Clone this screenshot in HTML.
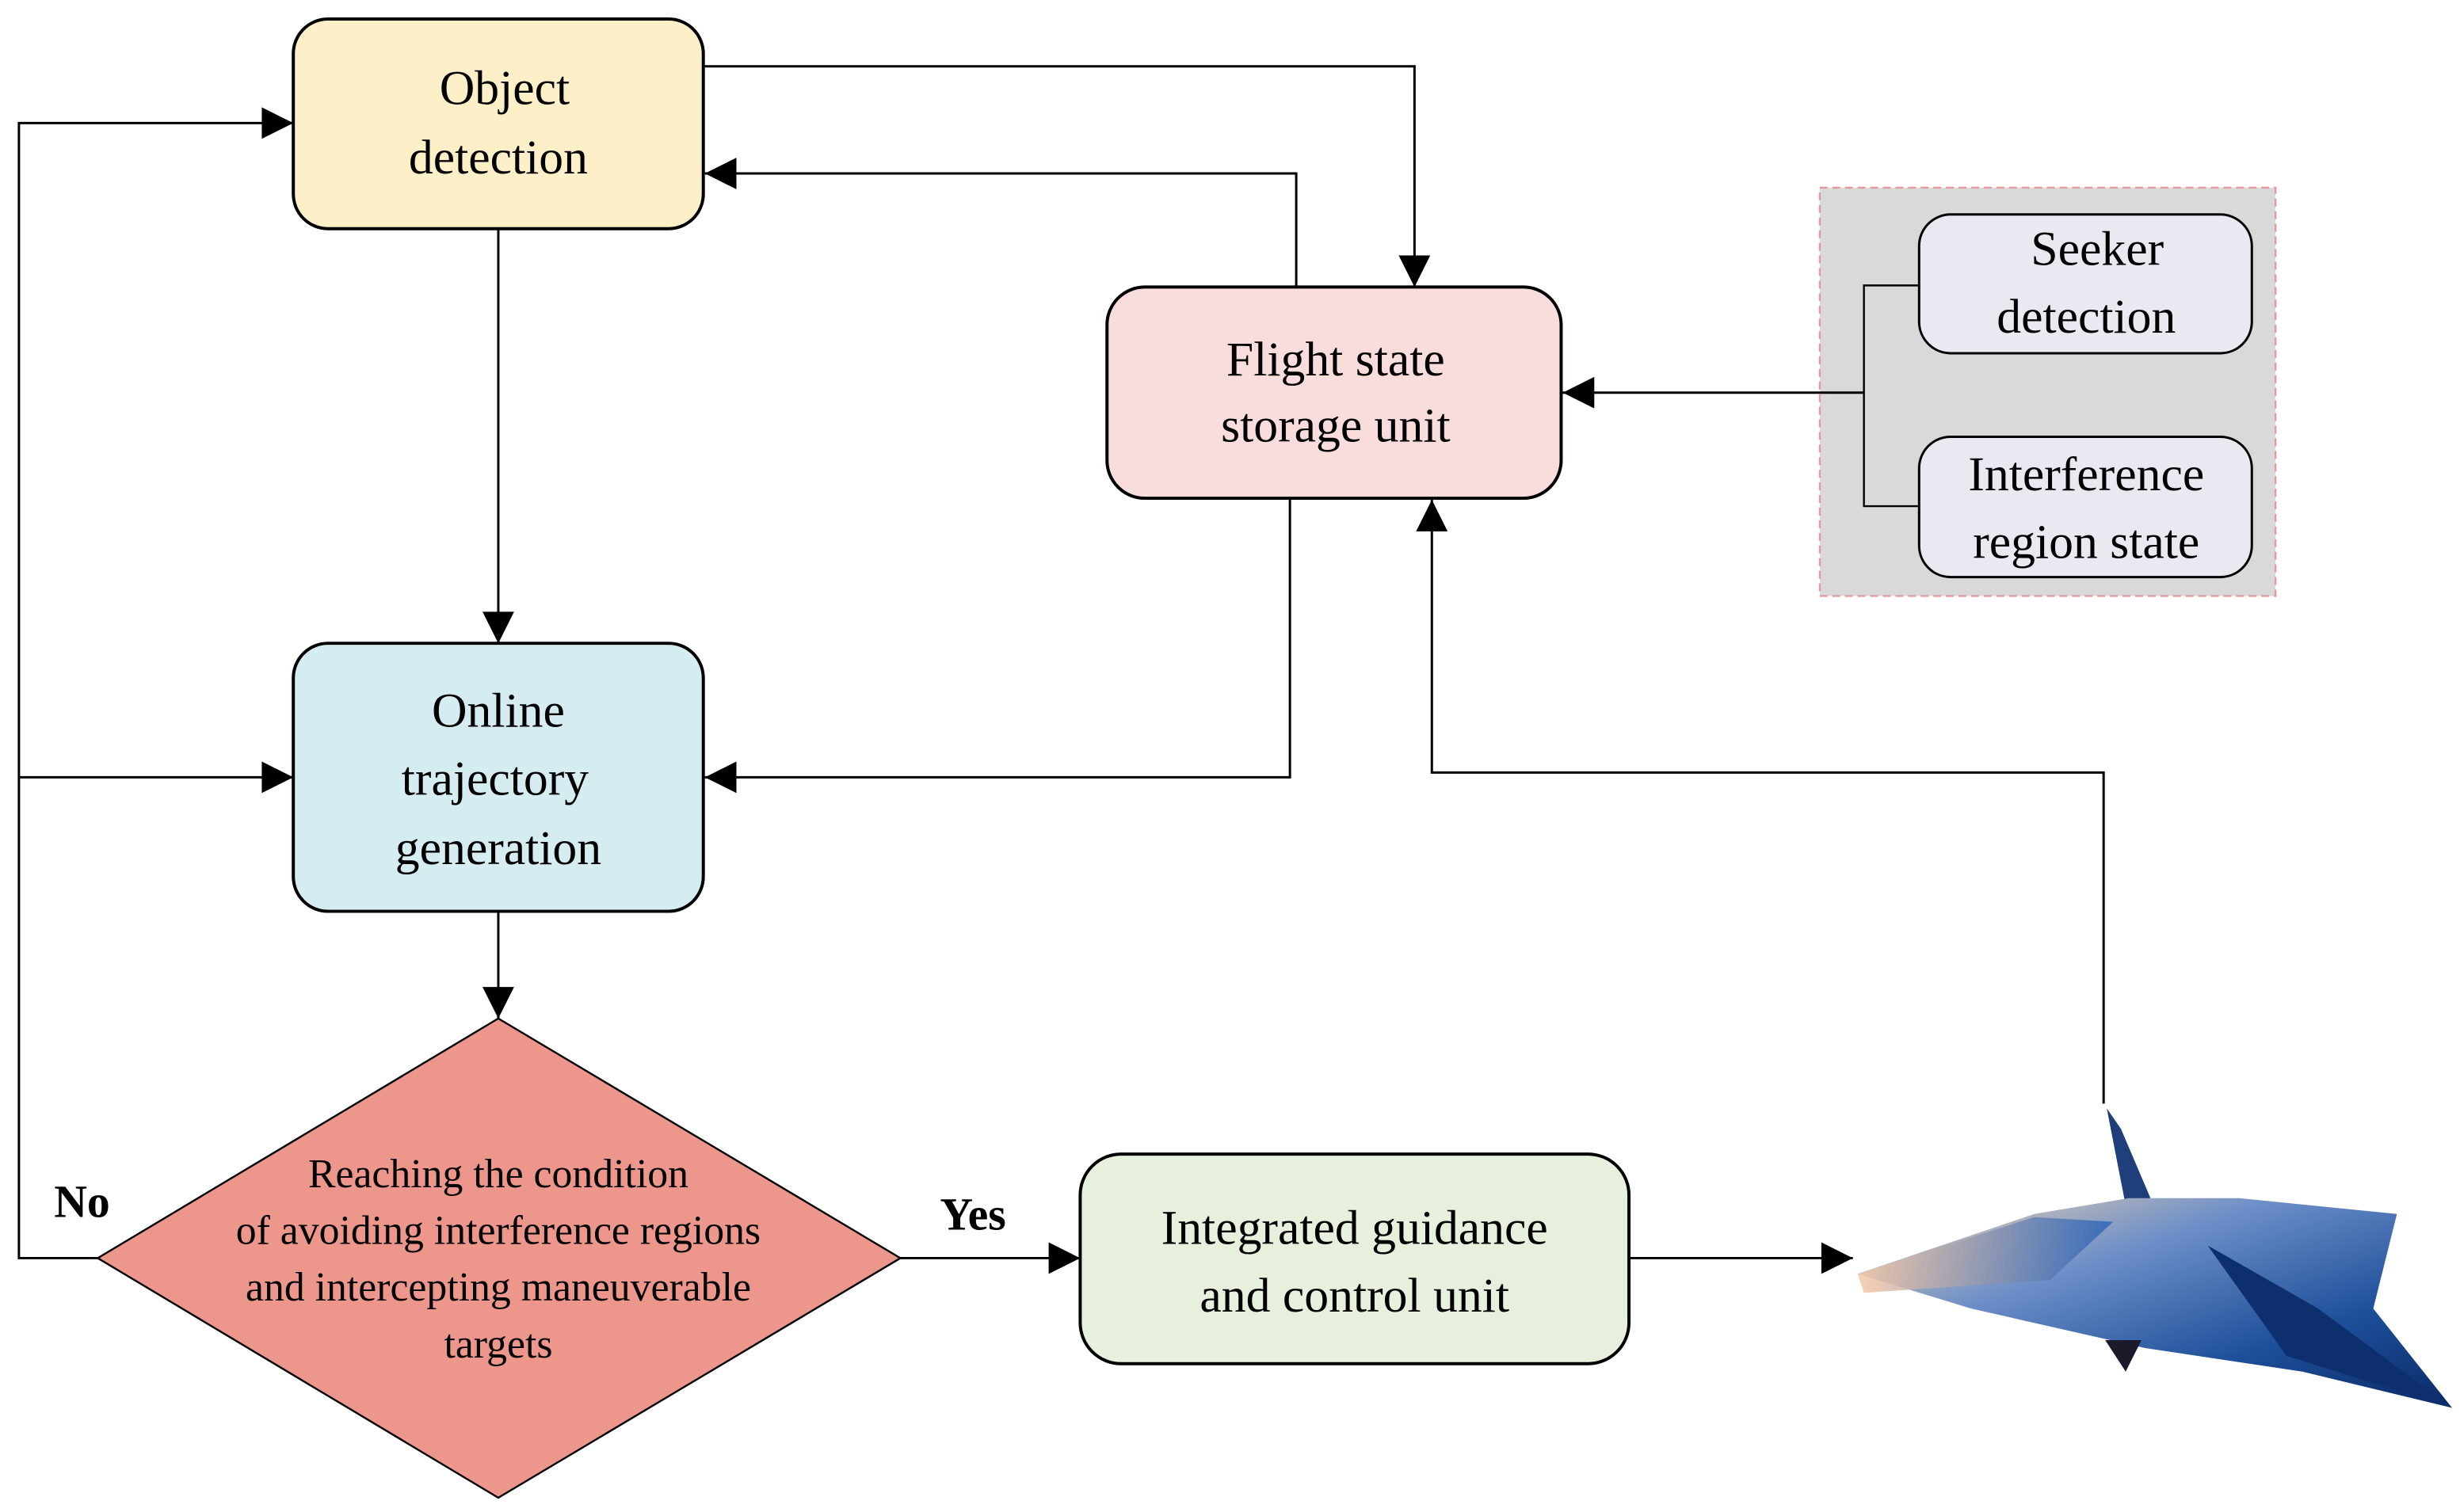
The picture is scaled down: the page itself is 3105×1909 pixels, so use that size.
<!DOCTYPE html>
<html><head><meta charset="utf-8"><style>
html,body{margin:0;padding:0;background:#fff;}
svg{display:block;}
text{font-family:"Liberation Serif",serif;fill:#000;}
</style></head><body>
<svg width="3105" height="1909" viewBox="0 0 1560 959" xmlns="http://www.w3.org/2000/svg">
<defs>
<marker id="a" viewBox="0 0 10 10" refX="10" refY="5" markerWidth="28" markerHeight="20" markerUnits="userSpaceOnUse" orient="auto">
<path d="M0,0 L10,5 L0,10 Z" fill="#000"/></marker>
<linearGradient id="jg" x1="0" y1="0" x2="1" y2="1">
<stop offset="0" stop-color="#f8d8b0"/><stop offset="0.35" stop-color="#6d8fc8"/><stop offset="0.7" stop-color="#1d4f9a"/><stop offset="1" stop-color="#0a2a66"/></linearGradient>
<linearGradient id="jg2" x1="0" y1="0" x2="1" y2="0">
<stop offset="0" stop-color="#f5c9a8"/><stop offset="1" stop-color="#2a64b8"/></linearGradient>
</defs>
<g fill="none" stroke="#000" stroke-width="1.5">
<polyline points="62,798 12,798 12,78 186,78" marker-end="url(#a)"/>
<line x1="12" y1="493" x2="186" y2="493" marker-end="url(#a)"/>
<polyline points="446,42 897,42 897,182" marker-end="url(#a)"/>
<polyline points="822,182 822,110 447,110" marker-end="url(#a)"/>
<line x1="316" y1="145" x2="316" y2="408" marker-end="url(#a)"/>
<polyline points="818,316 818,493 447,493" marker-end="url(#a)"/>
<line x1="316" y1="578" x2="316" y2="646" marker-end="url(#a)"/>
<line x1="571" y1="798" x2="685" y2="798" marker-end="url(#a)"/>
<line x1="1033" y1="798" x2="1175" y2="798" marker-end="url(#a)"/>
<polyline points="1334,700 1334,490 908,490 908,317" marker-end="url(#a)"/>
</g>
<rect x="1154" y="119" width="289" height="259" fill="#d9d9d9" stroke="#e59a9a" stroke-width="1.2" stroke-dasharray="5,3"/>
<g fill="none" stroke="#000" stroke-width="1.2">
<polyline points="1217,181 1182,181 1182,321 1217,321"/>
<line x1="1182" y1="249" x2="991" y2="249" stroke-width="1.5" marker-end="url(#a)"/>
</g>
<g stroke="#000" stroke-width="2">
<rect x="186" y="12" width="260" height="133" rx="22" fill="#fdf0c8"/>
<rect x="702" y="182" width="288" height="134" rx="24" fill="#f9dcdc"/>
<rect x="186" y="408" width="260" height="170" rx="22" fill="#d5ecf1"/>
<polygon points="316,646 571,798 316,950 62,798" fill="#ec968c" stroke-width="1.2"/>
<rect x="685" y="732" width="348" height="133" rx="26" fill="#e6f0dc"/>
<rect x="1217" y="136" width="211" height="88" rx="20" fill="#ece8f2" stroke-width="1.5"/>
<rect x="1217" y="277" width="211" height="89" rx="20" fill="#ece8f2" stroke-width="1.5"/>
</g>
<g font-size="31" text-anchor="middle">
<text x="320" y="66">Object</text>
<text x="316" y="110">detection</text>
<text x="847" y="238">Flight state</text>
<text x="847" y="280">storage unit</text>
<text x="316" y="461">Online</text>
<text x="314" y="504">trajectory</text>
<text x="316" y="548">generation</text>
<text x="859" y="789">Integrated guidance</text>
<text x="859" y="832">and control unit</text>
<text x="1330" y="168">Seeker</text>
<text x="1323" y="211">detection</text>
<text x="1323" y="311">Interference</text>
<text x="1323" y="354">region state</text>
</g>
<g font-size="26" text-anchor="middle">
<text x="316" y="753">Reaching the condition</text>
<text x="316" y="789">of avoiding interference regions</text>
<text x="316" y="825">and intercepting maneuverable</text>
<text x="316" y="861">targets</text>
</g>
<text x="52" y="772" font-size="29" font-weight="bold" text-anchor="middle">No</text>
<text x="617" y="780" font-size="29" font-weight="bold" text-anchor="middle">Yes</text>
<g>
<polygon points="1336,703 1345,716 1368,770 1350,775" fill="#1e3f7a"/>
<polygon points="1178,808 1290,770 1350,760 1420,760 1520,770 1505,830 1555,893 1460,870 1360,855 1250,830" fill="url(#jg)"/>
<polygon points="1178,808 1290,772 1340,775 1300,812 1182,820" fill="url(#jg2)" opacity="0.85"/>
<polygon points="1400,790 1470,830 1555,893 1450,860" fill="#0d2f6e"/>
<polygon points="1335,850 1358,850 1348,870" fill="#1a1a2a"/>
</g>
</svg>
</body></html>
